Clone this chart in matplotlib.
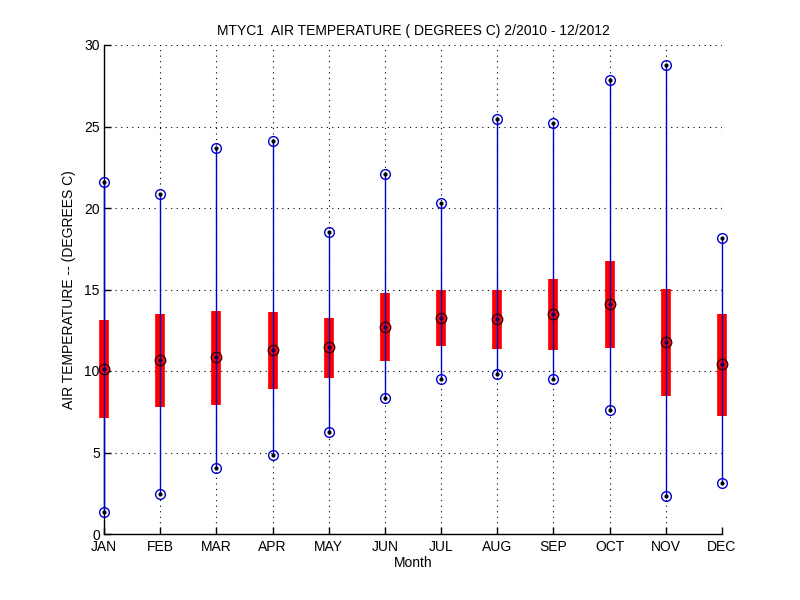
import matplotlib
matplotlib.use("Agg")
import matplotlib.pyplot as plt
import numpy as np

months = ["JAN", "FEB", "MAR", "APR", "MAY", "JUN", "JUL", "AUG", "SEP", "OCT", "NOV", "DEC"]
t_max = [21.6, 20.85, 23.7, 24.1, 18.5, 22.1, 20.3, 25.45, 25.2, 27.85, 28.8, 18.15]
t_min = [1.35, 2.45, 4.05, 4.85, 6.24, 8.32, 9.51, 9.8, 9.51, 7.59, 2.33, 3.1]
q_hi = [13.13, 13.5, 13.68, 13.62, 13.23, 14.79, 14.99, 14.99, 15.64, 16.75, 15.01, 13.5]
q_lo = [7.1, 7.81, 7.93, 8.92, 9.59, 10.63, 11.55, 11.37, 11.31, 11.43, 8.49, 7.26]
median = [10.1, 10.67, 10.84, 11.27, 11.45, 12.68, 13.23, 13.17, 13.5, 14.11, 11.76, 10.41]

plt.rcParams['font.family'] = ['Liberation Sans', 'DejaVu Sans']
fig = plt.figure(figsize=(8, 6), dpi=100)
ax = fig.add_axes([0.13, 0.11, 0.7725, 0.815])

x = np.arange(1, 13)
# red boxes (interquartile)
ax.vlines(x, q_lo, q_hi, colors='#ff0000', linewidth=7, zorder=6, clip_on=False)
# blue whisker lines
ax.vlines(x, t_min, t_max, colors='#0000cc', linewidth=1, zorder=7, clip_on=False)
# whisker end markers
for arr in (t_max, t_min):
    ax.plot(x, arr, 'o', markersize=7, markerfacecolor='none', markeredgecolor='#0000cc',
            markeredgewidth=1, zorder=8, clip_on=False)
    ax.plot(x, arr, '.', markersize=4, color='black', zorder=9, clip_on=False)
# median markers
ax.plot(x, median, 'o', markersize=7.5, markerfacecolor='none', markeredgecolor='#330000',
        markeredgewidth=1, zorder=8, clip_on=False)
ax.plot(x, median, '.', markersize=4, color='#000066', zorder=9, clip_on=False)

ax.set_xlim(1, 12)
ax.set_ylim(0, 30)
ax.set_xticks(x)
ax.set_xticklabels(months)
ax.set_yticks(np.arange(0, 31, 5))
ax.tick_params(direction='in', length=5, labelsize=10, width=1, colors='black')
ax.tick_params(axis='x', pad=4)
ax.tick_params(axis='y', pad=3)
ax.grid(True, linestyle=(0, (1, 4)), color='black', linewidth=0.8)
ax.set_axisbelow(True)
for s in ('top', 'right'):
    ax.spines[s].set_visible(False)
for s in ('left', 'bottom'):
    ax.spines[s].set_linewidth(1)
ax.set_title("MTYC1  AIR TEMPERATURE ( DEGREES C) 2/2010 - 12/2012", fontsize=10, pad=7)
ax.set_xlabel("Month", fontsize=10, labelpad=2)
ax.set_ylabel("AIR TEMPERATURE -- (DEGREES C)", fontsize=10, labelpad=6)

fig.savefig("out.png", dpi=100)
